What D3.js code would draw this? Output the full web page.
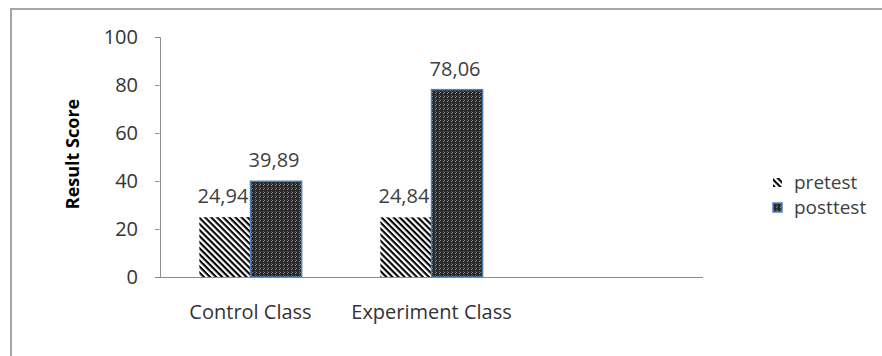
<!DOCTYPE html>
<html>
<head>
<meta charset="utf-8">
<script src="https://cdn.jsdelivr.net/npm/d3@7"></script>
<style>
  body { margin: 0; background: #fff; }
  text { font-family: "Open Sans", Lato, sans-serif; }
</style>
</head>
<body>
<svg id="chart"></svg>
<script>
const categories = ["Control Class", "Experiment Class", ""];
const seriesNames = ["pretest", "posttest"];
const pretest = [24.94, 24.84, null];
const posttest = [39.89, 78.06, null];
const valueLabels = { pretest: ["24,94", "24,84"], posttest: ["39,89", "78,06"] };
const yTicks = [0, 20, 40, 60, 80, 100];

const width = 882, height = 356;
const margin = { top: 37, left: 160, right: 179, bottom: 79 };
const plotW = width - margin.left - margin.right;
const plotH = height - margin.top - margin.bottom;

const svg = d3.select("#chart").attr("width", width).attr("height", height);

// patterns
const defs = svg.append("defs");
const stripes = defs.append("pattern")
    .attr("id", "stripes")
    .attr("patternUnits", "userSpaceOnUse")
    .attr("width", 4.3).attr("height", 4.3)
    .attr("patternTransform", "rotate(45)");
stripes.append("rect").attr("width", 4.3).attr("height", 4.3).attr("fill", "#fff");
stripes.append("rect").attr("width", 4.3).attr("height", 2.1).attr("fill", "#000");

const dots = defs.append("pattern")
    .attr("id", "dots")
    .attr("patternUnits", "userSpaceOnUse")
    .attr("width", 4).attr("height", 4);
dots.append("rect").attr("width", 4).attr("height", 4).attr("fill", "#2a2a2a");
dots.append("rect").attr("x", 3).attr("y", 0).attr("width", 1).attr("height", 1).attr("fill", "#8a8a8a");
dots.append("rect").attr("x", 0).attr("y", 3).attr("width", 1).attr("height", 1).attr("fill", "#8a8a8a");
dots.append("rect").attr("x", 3).attr("y", 2).attr("width", 1).attr("height", 1).attr("fill", "#5a5a5a");

// outer border
svg.append("rect")
    .attr("x", 11).attr("y", 9)
    .attr("width", 900).attr("height", 400)
    .attr("fill", "none")
    .attr("stroke", "#a6a6a6")
    .attr("stroke-width", 2);

const g = svg.append("g").attr("transform", `translate(${margin.left},${margin.top})`);

const x = d3.scaleBand().domain(categories).range([0, plotW]);
const xInner = d3.scaleBand().domain(seriesNames).range([0, x.bandwidth()]).paddingOuter(0.77);
const y = d3.scaleLinear().domain([0, 100]).range([plotH, 0]);

// y axis
const yAxis = g.append("g")
    .call(d3.axisLeft(y).tickValues(yTicks).tickSize(5).tickPadding(17));
yAxis.select(".domain").attr("stroke", "#8c8c8c").attr("d", `M-5,0.5H0.5V${plotH}`);
yAxis.selectAll(".tick line").attr("stroke", "#8c8c8c").attr("x1", -0.5);
yAxis.selectAll(".tick text").attr("fill", "#333").style("font-size", "20px")
    .style("font-family", "'Open Sans', sans-serif");

// x axis
const xAxis = g.append("g")
    .attr("transform", `translate(0,${plotH})`)
    .call(d3.axisBottom(x).tickSize(0).tickPadding(28));
xAxis.select(".domain").attr("stroke", "#8c8c8c").attr("d", `M-5,0.5H${plotW}`);
xAxis.selectAll(".tick text").attr("fill", "#333").style("font-size", "20px")
    .style("font-family", "'Open Sans', sans-serif");

// y title
g.append("text")
    .attr("transform", `translate(-81,${plotH / 2 - 3}) rotate(-90)`)
    .attr("text-anchor", "middle")
    .attr("fill", "#000")
    .style("font-size", "18px")
    .style("font-weight", "bold")
    .text("Result Score");

const series = { pretest: pretest, posttest: posttest };
const fills = { pretest: "url(#stripes)", posttest: "url(#dots)" };

seriesNames.forEach(name => {
    const vals = series[name];
    const data = categories.map((c, i) => ({ c, v: vals[i], i })).filter(d => d.v != null);
    g.selectAll(`.bar-${name}`)
        .data(data)
        .enter().append("rect")
        .attr("class", `bar-${name}`)
        .attr("x", d => x(d.c) + xInner(name))
        .attr("y", d => y(d.v))
        .attr("width", xInner.bandwidth())
        .attr("height", d => plotH - y(d.v))
        .attr("fill", fills[name])
        .attr("stroke", name === "posttest" ? "#4f81bd" : "none")
        .attr("stroke-width", 1.5);
    g.selectAll(`.lbl-${name}`)
        .data(data)
        .enter().append("text")
        .attr("class", `lbl-${name}`)
        .attr("x", d => x(d.c) + xInner(name) + xInner.bandwidth() / 2 - 2)
        .attr("y", d => y(d.v) - 14)
        .attr("text-anchor", "middle")
        .attr("fill", "#404040")
        .style("font-size", "20px")
        .text(d => valueLabels[name][d.i]);
});

// legend
const legend = svg.append("g").attr("transform", "translate(773,178)");
seriesNames.forEach((name, i) => {
    const row = legend.append("g").attr("transform", `translate(0,${i * 25})`);
    row.append("rect")
        .attr("width", 9).attr("height", 9)
        .attr("fill", fills[name])
        .attr("stroke", name === "posttest" ? "#4f81bd" : "none")
        .attr("stroke-width", 1.5);
    row.append("text")
        .attr("x", 21).attr("y", 11)
        .attr("fill", "#404040")
        .style("font-size", "19px")
        .text(name);
});
</script>
</body>
</html>
